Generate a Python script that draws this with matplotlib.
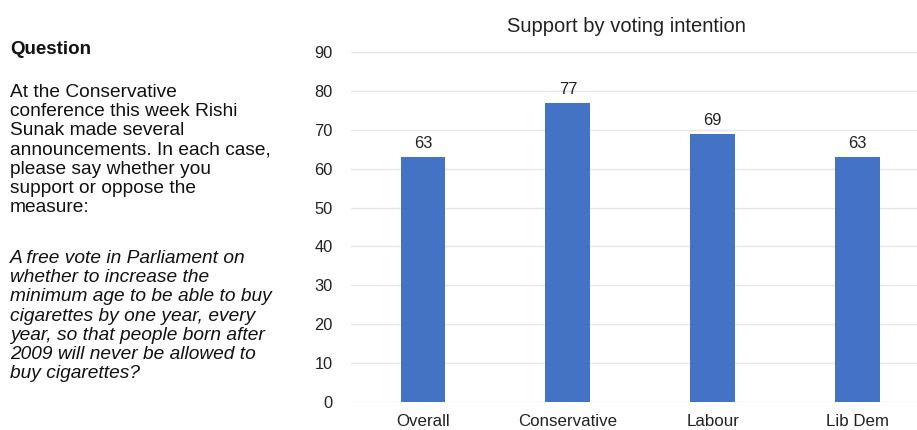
import matplotlib
matplotlib.use("Agg")
import matplotlib.pyplot as plt

categories = ["Overall", "Conservative", "Labour", "Lib Dem"]
values = [63, 77, 69, 63]
yticks = [0, 10, 20, 30, 40, 50, 60, 70, 80, 90]
title = "Support by voting intention"
heading = "Question"
intro = ("At the Conservative\nconference this week Rishi\nSunak made several\n"
         "announcements. In each case,\nplease say whether you\nsupport or oppose the\nmeasure:")
question = ("A free vote in Parliament on\nwhether to increase the\nminimum age to be able to buy\n"
            "cigarettes by one year, every\nyear, so that people born after\n2009 will never be allowed to\nbuy cigarettes?")

plt.rcParams['font.family'] = ['Liberation Sans', 'DejaVu Sans']
W, H = 917, 430
fig = plt.figure(figsize=(W / 100, H / 100), dpi=100)
fig.patch.set_facecolor('white')

left_px, right_px, bottom_px, top_px = 350.6, 917, 402, 52
ax = fig.add_axes([left_px / W, (H - bottom_px) / H, (right_px - left_px) / W, (bottom_px - top_px) / H])
x = list(range(len(categories)))
bars = ax.bar(x, values, width=0.31, color='#4472C4', zorder=3)
ax.set_xlim(-0.5, 3.41)
ax.set_ylim(0, 90)
ax.set_yticks(yticks)
ax.set_xticks(x)
ax.set_xticklabels(categories)
ax.tick_params(axis='x', length=0, labelsize=12.2, colors='#222222', pad=9)
ax.tick_params(axis='y', length=0, labelsize=11.8, colors='#222222', pad=13)
ax.grid(axis='y', color='#e6e6e6', linewidth=1, zorder=0)
for s in ax.spines.values():
    s.set_visible(False)
for xi, v in zip(x, values):
    ax.annotate(str(v), (xi, v), xytext=(0, 4), textcoords='offset points',
                ha='center', va='bottom', fontsize=11.8, color='#222222')

fig.text(626 / W, 1 - 27 / H, title, ha='center', va='center', fontsize=14.5, color='#222222')
fig.text(10 / W, 1 - 49 / H, heading, ha='left', va='center', fontsize=13.5, fontweight='bold', color='#111111')
fig.text(10 / W, 1 - 84 / H, intro, ha='left', va='top', fontsize=13.8, color='#111111', linespacing=1.17)
fig.text(10 / W, 1 - 250 / H, question, ha='left', va='top', fontsize=13.8, style='italic', color='#111111', linespacing=1.17)

fig.savefig('out.png', dpi=100, facecolor='white')
